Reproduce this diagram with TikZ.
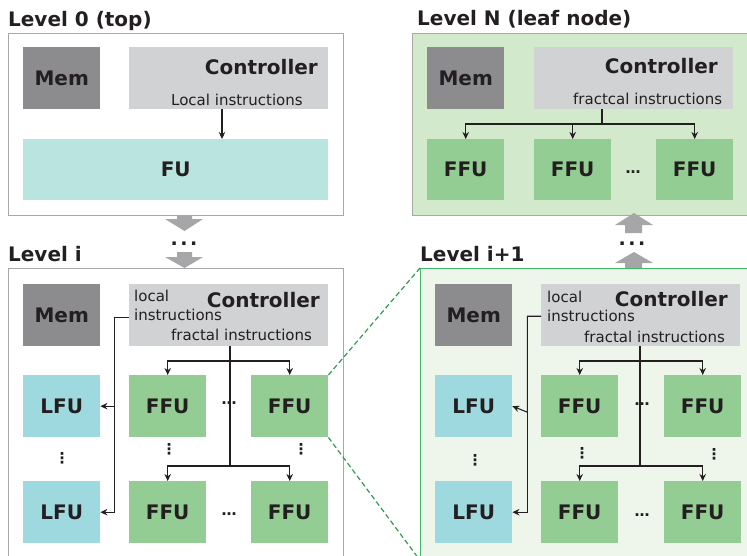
\documentclass[tikz,border=0pt]{standalone}
\usepackage{fontspec}
\setmainfont{DejaVu Sans}
\usetikzlibrary{arrows.meta}
\definecolor{memc}{HTML}{8C8C8E}
\definecolor{ctrlc}{HTML}{D1D2D4}
\definecolor{fuc}{HTML}{B9E4DF}
\definecolor{lfuc}{HTML}{9FD9E0}
\definecolor{ffuc}{HTML}{93CD93}
\definecolor{leafc}{HTML}{D2E9CC}
\definecolor{lvjc}{HTML}{EEF6EC}
\definecolor{bordc}{HTML}{A8A8A8}
\definecolor{greenb}{HTML}{41B767}
\definecolor{greend}{HTML}{2E9A55}
\definecolor{bigarr}{HTML}{A6A6A8}
\definecolor{txt}{HTML}{231F20}
\begin{document}
\begin{tikzpicture}[x=1pt,y=-1pt,
  unit/.style={anchor=north west, inner sep=0pt, minimum width=77, minimum height=62,
    font=\bfseries\fontsize{20}{22}\selectfont, text=txt},
  ctrlbox/.style={anchor=north west, inner sep=0pt, minimum width=199, minimum height=62, fill=ctrlc},
  lvl/.style={anchor=north west, inner sep=0pt, draw=bordc, line width=1pt},
  title/.style={anchor=base west, inner sep=0pt, font=\bfseries\fontsize{20}{22}\selectfont, text=txt},
  ctl/.style={anchor=base east, inner sep=0pt, font=\bfseries\fontsize{20}{22}\selectfont, text=txt},
  small/.style={anchor=base west, inner sep=0pt, font=\fontsize{15}{17}\selectfont, text=txt},
  dots/.style={inner sep=0pt, font=\bfseries\fontsize{15}{17}\selectfont, text=txt},
  bigdots/.style={anchor=base, inner sep=0pt, font=\bfseries\fontsize{19}{19}\selectfont, text=txt},
  ln/.style={draw=txt, line width=1.1pt},
  arr/.style={ln, -{Stealth[length=7pt,width=6.5pt]}},
  bigarrow/.style={fill=bigarr, draw=none},
  zoomline/.style={draw=greend, line width=1.2pt, dash pattern=on 5pt off 3pt}
]
\useasboundingbox (0,0) rectangle (747,555);
\clip (0,0) rectangle (747,555);

% ---------------- Level 0 ----------------
\node[title] (t0) at (8,26) {Level 0 (top)};
\node[lvl, minimum width=335, minimum height=182] (lv0) at (8,33) {};
\node[unit, fill=memc] (m0) at (23,47) {Mem};
\node[ctrlbox] (c0) at (129,47) {};
\node[ctl] (c0t) at (318,74) {Controller};
\node[small] (c0i) at (171,105) {Local instructions};
\node[unit, fill=fuc, minimum width=305, minimum height=61] (fu0) at (23,139) {FU};
\draw[arr] ([xshift=93pt]c0.south west) -- ([xshift=199pt]fu0.north west);

% ---------------- Level N ----------------
\node[title] (tn) at (417,25) {Level N (leaf node)};
\node[lvl, fill=leafc, minimum width=336, minimum height=182] (lvn) at (412,33) {};
\node[unit, fill=memc] (mn) at (427,47) {Mem};
\node[ctrlbox] (cn) at (534,47) {};
\node[ctl] (cnt) at (718,73) {Controller};
\node[small] (cni) at (573,104) {fractcal instructions};
\node[unit, fill=ffuc, minimum height=61] (fn1) at (427,139) {FFU};
\node[unit, fill=ffuc, minimum height=61] (fn2) at (534,139) {FFU};
\node[unit, fill=ffuc, minimum height=61] (fn3) at (656,139) {FFU};
\node[dots] (dn) at (633,172) {…};
\coordinate (jn) at (602,124);
\draw[ln] ([xshift=68pt]cn.south west) -- (jn);
\draw[arr] (jn) -| (fn1.north);
\draw[arr] (jn) -| (fn2.north);
\draw[arr] (jn) -| (fn3.north);

% ---------------- big gray arrows ----------------
\fill[bigarrow] (177,215) -- (192,215) -- (192,219) -- (203,219) -- (184.5,231) -- (165,219) -- (177,219) -- cycle;
\node[bigdots] (dd) at (184,245) {.\hspace{2.5pt}.\hspace{2.5pt}.};
\fill[bigarrow] (177,252) -- (192,252) -- (192,257) -- (203,257) -- (184.5,268) -- (165,257) -- (177,257) -- cycle;

\fill[bigarrow] (625,233) -- (642,233) -- (642,225) -- (653,225) -- (634,213) -- (615,225) -- (625,225) -- cycle;
\node[bigdots] (du) at (632,245) {.\hspace{2.5pt}.\hspace{2.5pt}.};
\fill[bigarrow] (625,268) -- (642,268) -- (642,263) -- (653,263) -- (634,252) -- (615,263) -- (625,263) -- cycle;

% ---------------- Level i ----------------
\node[title] (ti) at (8,261) {Level i};
\node[lvl, minimum width=335, minimum height=292] (lvi) at (8,268) {};
\node[unit, fill=memc] (mi) at (23,284) {Mem};
\node[ctrlbox] (ci) at (129,284) {};
\node[ctl] (cit) at (320,307) {Controller};
\node[small] (cil1) at (134,301) {local};
\node[small] (cil2) at (134,320) {instructions};
\node[small] (cif) at (171,340) {fractal instructions};
\node[unit, fill=lfuc] (lfi1) at (23,375) {LFU};
\node[unit, fill=ffuc] (ffi1) at (129,375) {FFU};
\node[unit, fill=ffuc] (ffi2) at (251,375) {FFU};
\node[unit, fill=lfuc] (lfi2) at (23,481) {LFU};
\node[unit, fill=ffuc] (ffi3) at (129,481) {FFU};
\node[unit, fill=ffuc] (ffi4) at (251,481) {FFU};
\node[dots] (dih1) at (229,403) {…};
\node[dots] (dih2) at (229,514) {…};
\node[dots] (div1) at (62,458) {⋮};
\node[dots] (div2) at (169,449) {⋮};
\node[dots] (div3) at (301,449) {⋮};
\coordinate (ji1) at (230,361);
\coordinate (ji2) at (230,466);
\draw[ln] ([xshift=101pt]ci.south west) -- (ji2);
\draw[arr] (ji1) -| (ffi1.north);
\draw[arr] (ji1) -| (ffi2.north);
\draw[arr] (ji2) -| (ffi3.north);
\draw[arr] (ji2) -| (ffi4.north);
\draw[arr] ([yshift=-2pt]ci.west) -| ([xshift=14pt]lfi1.east) -- (lfi1.east);
\draw[arr] ([xshift=14pt]lfi1.east) |- (lfi2.east);

% ---------------- Level i+1 ----------------
\node[title] (tj) at (420,261) {Level i+1};
\node[anchor=north west, inner sep=0pt, draw=greenb, fill=lvjc, line width=1.3pt,
      minimum width=327, minimum height=289] (lvj) at (420,268) {};
\node[unit, fill=memc] (mj) at (435,284) {Mem};
\node[ctrlbox] (cj) at (541,284) {};
\node[ctl] (cjt) at (728,306) {Controller};
\node[small] (cjl1) at (547,302) {local};
\node[small] (cjl2) at (547,321) {instructions};
\node[small] (cjf) at (584,342) {fractal instructions};
\node[unit, fill=lfuc] (lfj1) at (435,375) {LFU};
\node[unit, fill=ffuc] (ffj1) at (541,375) {FFU};
\node[unit, fill=ffuc] (ffj2) at (664,375) {FFU};
\node[unit, fill=lfuc] (lfj2) at (435,481) {LFU};
\node[unit, fill=ffuc] (ffj3) at (541,481) {FFU};
\node[unit, fill=ffuc] (ffj4) at (664,481) {FFU};
\node[dots] (djh1) at (642,404) {…};
\node[dots] (djh2) at (642,515) {…};
\node[dots] (djv1) at (475,460) {⋮};
\node[dots] (djv2) at (582,453) {⋮};
\node[dots] (djv3) at (714,454) {⋮};
\coordinate (jj1) at (640,361);
\coordinate (jj2) at (640,466);
\draw[ln] ([xshift=99pt]cj.south west) -- (jj2);
\draw[arr] (jj1) -| (ffj1.north);
\draw[arr] (jj1) -| (ffj2.north);
\draw[arr] (jj2) -| (ffj3.north);
\draw[arr] (jj2) -| (ffj4.north);
\draw[arr] ([yshift=-1pt]cj.west) -| ([xshift=15pt,yshift=-6pt]lfj1.east) -- (lfj1.east);
\draw[arr] ([xshift=15pt]lfj1.east) |- (lfj2.east);

% ---------------- zoom lines ----------------
\draw[zoomline] (ffi2.north east) -- (lvj.north west);
\draw[zoomline] (ffi2.south east) -- ([yshift=-2pt]lvj.south west);
\end{tikzpicture}
\end{document}
